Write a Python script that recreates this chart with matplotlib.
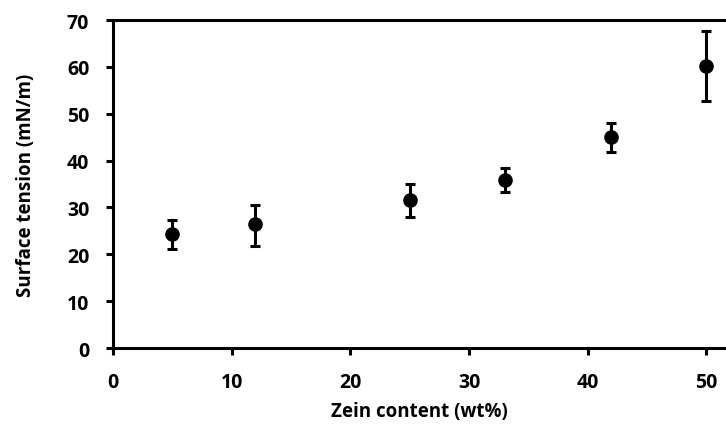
import matplotlib.pyplot as plt

zein = [5, 12, 25, 33, 42, 50]
tension = [24.3, 26.4, 31.6, 35.9, 45.1, 60.2]
err_low = [3.2, 4.6, 3.6, 2.6, 3.2, 7.4]
err_high = [3.1, 4.1, 3.4, 2.5, 2.9, 7.4]

plt.rcParams['font.family'] = ['Open Sans', 'DejaVu Sans']
plt.rcParams['font.weight'] = 'bold'

fig = plt.figure(figsize=(7.26, 4.39), dpi=100)
ax = fig.add_axes([0.1556, 0.205, 0.8444, 0.747])

ax.errorbar(zein, tension, yerr=[err_low, err_high], fmt='o', color='black',
            markersize=9.5, elinewidth=2.2, capsize=3.3, capthick=2.2)

ax.set_xlim(0, 51.65)
ax.set_ylim(0, 70)
ax.set_xticks([0, 10, 20, 30, 40, 50])
ax.set_yticks(range(0, 71, 10))
ax.spines['right'].set_visible(False)
for s in ['left', 'bottom', 'top']:
    ax.spines[s].set_linewidth(2.2)
ax.tick_params(direction='out', length=5, width=2.2, labelsize=14)
ax.tick_params(axis='y', pad=12)
ax.tick_params(axis='x', pad=12)
for lbl in ax.get_xticklabels() + ax.get_yticklabels():
    lbl.set_fontweight('bold')

ax.set_xlabel('Zein content (wt%)', fontsize=13.5, fontweight='bold', labelpad=7)
ax.set_ylabel('Surface tension (mN/m)', fontsize=13.5, fontweight='bold', labelpad=22)

fig.savefig('out.png', dpi=100)
